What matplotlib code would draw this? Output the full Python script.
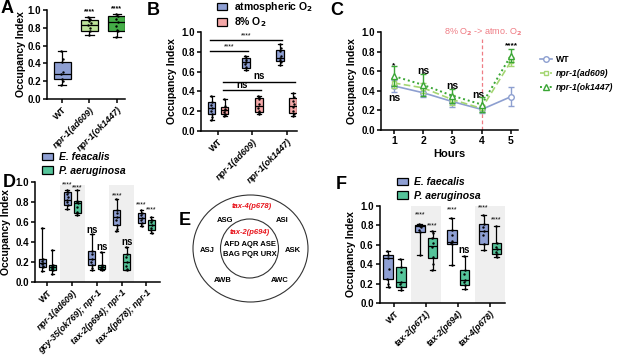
import matplotlib
matplotlib.use('Agg')
import matplotlib.pyplot as plt
from matplotlib.patches import Ellipse, Patch
from matplotlib.lines import Line2D

plt.rcParams['font.family'] = ['Liberation Sans', 'DejaVu Sans']
plt.rcParams['font.weight'] = 'bold'
plt.rcParams['axes.labelweight'] = 'bold'
plt.rcParams['mathtext.default'] = 'bf'

# ---------------- DATA ----------------
# Panel A  (stats: whislo, q1, med, q3, whishi)
a_labels = ['WT', 'npr-1(ad609)', 'npr-1(ok1447)']
a_stats = [(0.16, 0.22, 0.28, 0.42, 0.54),
           (0.72, 0.76, 0.83, 0.89, 0.92),
           (0.70, 0.76, 0.86, 0.93, 0.96)]
a_points = [[0.54, 0.45, 0.42, 0.30, 0.28, 0.22, 0.20, 0.16],
            [0.92, 0.90, 0.88, 0.85, 0.83, 0.80, 0.76, 0.72],
            [0.96, 0.93, 0.90, 0.86, 0.82, 0.78, 0.76, 0.70]]
a_sig = ['', '****', '****']

# Panel B
b_labels = ['WT', 'npr-1(ad609)', 'npr-1(ok1447)']
b_series = ['atmospheric O$_2$', '8% O$_2$']
b_atm_stats = [(0.11, 0.17, 0.23, 0.29, 0.35),
               (0.62, 0.64, 0.70, 0.74, 0.76),
               (0.67, 0.71, 0.74, 0.82, 0.88)]
b_low_stats = [(0.15, 0.17, 0.21, 0.24, 0.32),
               (0.17, 0.19, 0.25, 0.33, 0.35),
               (0.15, 0.18, 0.25, 0.33, 0.38)]
b_atm_points = [[0.35, 0.29, 0.26, 0.23, 0.20, 0.17, 0.14, 0.11],
                [0.76, 0.74, 0.72, 0.70, 0.68, 0.65, 0.62],
                [0.88, 0.84, 0.81, 0.76, 0.74, 0.72, 0.70, 0.67]]
b_low_points = [[0.32, 0.25, 0.22, 0.21, 0.19, 0.17, 0.16, 0.15],
                [0.35, 0.34, 0.32, 0.27, 0.23, 0.20, 0.18, 0.17],
                [0.38, 0.34, 0.30, 0.27, 0.24, 0.20, 0.17, 0.15]]
# comparisons: (series_from, group_from, series_to, group_to, y, text)
b_comparisons = [(0, 0, 0, 1, 0.81, '****'),
                 (0, 0, 0, 2, 0.92, '****'),
                 (1, 0, 1, 1, 0.41, 'ns'),
                 (1, 0, 1, 2, 0.50, 'ns')]

# Panel C
c_hours = [1, 2, 3, 4, 5]
c_names = ['WT', 'npr-1(ad609)', 'npr-1(ok1447)']
c_wt = [0.45, 0.38, 0.29, 0.21, 0.34]
c_wt_err = [0.06, 0.04, 0.06, 0.04, 0.10]
c_ad609 = [0.48, 0.43, 0.31, 0.22, 0.70]
c_ad609_err = [0.05, 0.05, 0.05, 0.04, 0.05]
c_ok1447 = [0.55, 0.46, 0.35, 0.26, 0.76]
c_ok1447_err = [0.10, 0.11, 0.07, 0.08, 0.07]
c_sig_text = ['*', 'ns', 'ns', 'ns', 'ns', '****']
c_sig_x = [1, 1, 2, 3, 3.88, 5]
c_sig_y = [0.66, 0.33, 0.60, 0.45, 0.36, 0.86]
c_switch_hour = 4
c_switch_label = '8% O$_2$ -> atmo. O$_2$'

# Panel D
d_labels = ['WT', 'npr-1(ad609)', 'gcy-35(ok769); npr-1',
            'tax-2(p694); npr-1', 'tax-4(p678); npr-1']
d_series = ['E. feacalis', 'P. aeruginosa']
d_ef_stats = [(0.11, 0.15, 0.19, 0.23, 0.54),
              (0.73, 0.77, 0.82, 0.90, 0.92),
              (0.12, 0.17, 0.23, 0.31, 0.48),
              (0.51, 0.57, 0.65, 0.72, 0.83),
              (0.56, 0.59, 0.64, 0.69, 0.72)]
d_pa_stats = [(0.08, 0.12, 0.15, 0.17, 0.32),
              (0.67, 0.69, 0.79, 0.81, 0.92),
              (0.12, 0.13, 0.15, 0.17, 0.30),
              (0.12, 0.12, 0.20, 0.28, 0.35),
              (0.49, 0.52, 0.57, 0.62, 0.65)]
d_ef_points = [[0.54, 0.23, 0.21, 0.19, 0.18, 0.16, 0.15, 0.11],
               [0.92, 0.90, 0.88, 0.85, 0.82, 0.80, 0.77, 0.73],
               [0.48, 0.31, 0.28, 0.23, 0.20, 0.17, 0.14, 0.12],
               [0.83, 0.72, 0.69, 0.65, 0.62, 0.57, 0.53, 0.51],
               [0.72, 0.69, 0.67, 0.64, 0.62, 0.59, 0.56]]
d_pa_points = [[0.32, 0.17, 0.16, 0.15, 0.14, 0.13, 0.12, 0.08],
               [0.92, 0.81, 0.80, 0.79, 0.75, 0.70, 0.69, 0.67],
               [0.30, 0.17, 0.16, 0.15, 0.14, 0.13, 0.12],
               [0.35, 0.28, 0.25, 0.20, 0.16, 0.13, 0.12],
               [0.65, 0.62, 0.60, 0.57, 0.54, 0.52, 0.49]]
d_ef_sig = ['', '****', 'ns', '****', '****']
d_ef_sig_y = [0, 0.97, 0.52, 0.86, 0.77]
d_pa_sig = ['', '****', 'ns', 'ns', '****']
d_pa_sig_y = [0, 0.94, 0.35, 0.40, 0.72]
d_shaded = [1, 3]

# Panel E
e_outer_label = 'tax-4(p678)'
e_inner_label = 'tax-2(p694)'
e_outer_neurons = ['ASG', 'ASI', 'ASJ', 'ASK', 'AWB', 'AWC']
e_inner_neurons = ['AFD AQR ASE', 'BAG PQR URX']

# Panel F
f_labels = ['WT', 'tax-2(p671)', 'tax-2(p694)', 'tax-4(p678)']
f_series = ['E. faecalis', 'P. aeruginosa']
f_ef_stats = [(0.16, 0.25, 0.46, 0.50, 0.54),
              (0.49, 0.73, 0.79, 0.80, 0.81),
              (0.39, 0.61, 0.63, 0.75, 0.88),
              (0.55, 0.61, 0.74, 0.81, 0.91)]
f_pa_stats = [(0.13, 0.16, 0.22, 0.37, 0.45),
              (0.34, 0.46, 0.59, 0.67, 0.74),
              (0.14, 0.19, 0.24, 0.34, 0.48),
              (0.47, 0.51, 0.56, 0.62, 0.79)]
f_ef_points = [[0.54, 0.50, 0.46, 0.35, 0.25, 0.20, 0.16],
               [0.81, 0.80, 0.79, 0.78, 0.75, 0.73, 0.49],
               [0.88, 0.75, 0.70, 0.64, 0.62, 0.61, 0.39],
               [0.91, 0.81, 0.78, 0.74, 0.70, 0.61, 0.55]]
f_pa_points = [[0.45, 0.37, 0.32, 0.22, 0.20, 0.16, 0.13],
               [0.74, 0.72, 0.67, 0.62, 0.58, 0.47, 0.40, 0.34],
               [0.48, 0.34, 0.30, 0.24, 0.22, 0.19, 0.14],
               [0.79, 0.62, 0.58, 0.56, 0.53, 0.51, 0.47]]
f_ef_sig = ['', '****', '****', '****']
f_ef_sig_y = [0, 0.91, 0.96, 0.98]
f_pa_sig = ['', '****', 'ns', '****']
f_pa_sig_y = [0, 0.80, 0.55, 0.86]
f_shaded = [1, 3]

# ---------------- STYLE ----------------
BLUE = '#8e9fd3'
LGREEN = '#bde39a'
DGREEN = '#44ad47'
PINK = '#f5a8a8'
TEAL = '#55c49a'
SHADE = '#efefef'
C_WT = '#8d9fd0'
C_AD = '#a4d672'
C_OK = '#3aa635'
RED = '#ef7c84'

W, H = 617, 360
fig = plt.figure(figsize=(6.17, 3.6), dpi=100)


def px_axes(l, t, r, b):
    return fig.add_axes([l / W, 1 - b / H, (r - l) / W, (b - t) / H])


def style(ax, ylabel=True, pad=3):
    for s in ['top', 'right']:
        ax.spines[s].set_visible(False)
    for s in ['left', 'bottom']:
        ax.spines[s].set_linewidth(1.1)
    ax.set_ylim(0, 1.0)
    ax.set_yticks([0, 0.2, 0.4, 0.6, 0.8, 1.0])
    ax.set_yticklabels(['0.0', '0.2', '0.4', '0.6', '0.8', '1.0'])
    ax.tick_params(axis='both', width=1.1, length=3, labelsize=7, pad=1.5)
    if ylabel:
        ax.set_ylabel('Occupancy Index', fontsize=7.5, labelpad=pad)


def to_stats(tup):
    lo, q1, med, q3, hi = tup
    return dict(whislo=lo, q1=q1, med=med, q3=q3, whishi=hi, fliers=[])


JIT = [-0.06, 0.05, -0.02, 0.07, -0.07, 0.02, 0.06, -0.04, 0.0]


def boxes(ax, stats, pos, width, color, points, jscale=1.0):
    bp = ax.bxp([to_stats(s) for s in stats], positions=pos, widths=width,
                patch_artist=True, showfliers=False,
                boxprops=dict(facecolor=color, edgecolor='black', linewidth=0.9),
                whiskerprops=dict(color='black', linewidth=0.9),
                capprops=dict(color='black', linewidth=0.9),
                medianprops=dict(color='black', linewidth=0.9),
                manage_ticks=False)
    for b in bp['caps']:
        x = b.get_xdata()
        c = (x[0] + x[1]) / 2
        b.set_xdata([c - width * 0.25, c + width * 0.25])
    for p, pts in zip(pos, points):
        xs = [p + JIT[i % len(JIT)] * width * jscale for i in range(len(pts))]
        ax.scatter(xs, pts, s=3, color='black', zorder=5, linewidths=0)


def xlabels(ax, labels, italics, fs=6.5):
    ax.set_xticks(range(len(labels)))
    ax.set_xticklabels(labels, rotation=45, ha='right', rotation_mode='anchor',
                       fontsize=fs)
    for t, it in zip(ax.get_xticklabels(), italics):
        if it:
            t.set_style('italic')


def letter(x, y, s):
    fig.text(x / W, 1 - y / H, s, fontsize=13, fontweight='heavy', va='top', ha='left')


# ---------------- PANEL A ----------------
axA = px_axes(47, 10, 125, 99)
style(axA, pad=1)
colsA = [BLUE, LGREEN, DGREEN]
for i in range(3):
    boxes(axA, [a_stats[i]], [i], 0.62, colsA[i], [a_points[i]])
    if a_sig[i]:
        axA.text(i, max(a_points[i]) + 0.02, a_sig[i], ha='center', va='bottom', fontsize=5)
axA.set_xlim(-0.55, 2.3)
xlabels(axA, a_labels, [False, True, True])
letter(1, 0, 'A')

# ---------------- PANEL B ----------------
axB = px_axes(201, 32, 297, 131)
style(axB)
off = 0.19
pos_atm = [g - off for g in range(3)]
pos_low = [g + off for g in range(3)]
boxes(axB, b_atm_stats, pos_atm, 0.22, BLUE, b_atm_points)
boxes(axB, b_low_stats, pos_low, 0.22, PINK, b_low_points)
posB = [pos_atm, pos_low]
for s1, g1, s2, g2, y, txt in b_comparisons:
    x1, x2 = posB[s1][g1], posB[s2][g2]
    axB.plot([x1 - 0.05, x2 + 0.05], [y, y], color='black', lw=1.0, clip_on=False)
    axB.text((x1 + x2) / 2, y + 0.005, txt, ha='center', va='bottom',
             fontsize=5 if '*' in txt else 7, fontweight='normal' if '*' in txt else 'bold')
axB.set_xlim(-0.5, 2.3)
xlabels(axB, b_labels, [False, True, True])
fig.legend([Patch(facecolor=BLUE, edgecolor='black', lw=0.9),
            Patch(facecolor=PINK, edgecolor='black', lw=0.9)], b_series,
           loc='upper left', bbox_to_anchor=(216 / W, 1 + 1 / H), frameon=False,
           fontsize=7.5, handlelength=1.0, handleheight=0.7, handletextpad=0.6,
           labelspacing=0.15, borderaxespad=0, borderpad=0.1)
letter(147, 2, 'B')

# ---------------- PANEL C ----------------
axC = px_axes(381, 32, 518, 130)
style(axC)
axC.errorbar(c_hours, c_wt, yerr=c_wt_err, color=C_WT, marker='o', mfc='white',
             ms=4, lw=1.2, ls='-', capsize=2.5, elinewidth=1.0, zorder=3)
axC.errorbar(c_hours, c_ad609, yerr=c_ad609_err, color=C_AD, marker='s', mfc='white',
             ms=3.5, lw=1.2, ls=(0, (4, 2)), capsize=2.5, elinewidth=1.0, zorder=4)
axC.errorbar(c_hours, c_ok1447, yerr=c_ok1447_err, color=C_OK, marker='^', mfc='white',
             ms=4, lw=1.4, ls=(0, (1, 1.5)), capsize=2.5, elinewidth=1.0, zorder=5)
axC.axvline(c_switch_hour, ymin=0, ymax=0.93, color=RED, lw=0.9, ls=(0, (3, 2)))
axC.text(c_switch_hour + 0.05, 1.0, c_switch_label, color=RED, fontsize=6.5,
         ha='center', va='center', fontweight='normal')
for t, x, y in zip(c_sig_text, c_sig_x, c_sig_y):
    axC.text(x, y, t, ha='center', va='center',
             fontsize=6 if '*' in t else 7.5)
axC.set_xlim(0.56, 5.24)
axC.set_xticks(c_hours)
axC.tick_params(axis='x', labelsize=7.5)
axC.set_xlabel('Hours', fontsize=8, labelpad=2)
hC = [Line2D([], [], color=C_WT, marker='o', mfc='white', ms=4, lw=1.2, ls='-'),
      Line2D([], [], color=C_AD, marker='s', mfc='white', ms=3.5, lw=1.2, ls=(0, (4, 2))),
      Line2D([], [], color=C_OK, marker='^', mfc='white', ms=4, lw=1.4, ls=(0, (1, 1.5)))]
legC = fig.legend(hC, c_names, loc='upper left', bbox_to_anchor=(540 / W, 1 - 55 / H),
                  frameon=False, fontsize=6.3, handlelength=1.4, handletextpad=0.4,
                  labelspacing=0.6, borderaxespad=0, borderpad=0)
for t in legC.get_texts()[1:]:
    t.set_style('italic')
letter(330, 2, 'C')

# ---------------- PANEL D ----------------
axD = px_axes(35, 182, 160, 282)
style(axD)
for g in d_shaded:
    axD.axvspan(g - 0.5, g + 0.5, ymin=0, ymax=0.97, color=SHADE, zorder=0, lw=0)
offD = 0.2
pos_ef = [g - offD for g in range(5)]
pos_pa = [g + offD for g in range(5)]
boxes(axD, d_ef_stats, pos_ef, 0.28, BLUE, d_ef_points)
boxes(axD, d_pa_stats, pos_pa, 0.28, TEAL, d_pa_points)
for i in range(5):
    for p, txt, y in [(pos_ef[i], d_ef_sig[i], d_ef_sig_y[i]), (pos_pa[i], d_pa_sig[i], d_pa_sig_y[i])]:
        if txt:
            axD.text(p, y, txt, ha='center', va='center', clip_on=False,
                     fontsize=5 if '*' in txt else 7,
                     fontweight='normal' if '*' in txt else 'bold')
axD.set_xlim(-0.5, 4.55)
xlabels(axD, d_labels, [False, True, True, True, True], fs=6.3)
legD = fig.legend([Patch(facecolor=BLUE, edgecolor='black', lw=0.9),
                   Patch(facecolor=TEAL, edgecolor='black', lw=0.9)], d_series,
                  loc='upper left', bbox_to_anchor=(40 / W, 1 - 150 / H), frameon=False,
                  fontsize=7.5, handlelength=1.0, handleheight=0.7, handletextpad=0.6,
                  labelspacing=0.35, borderaxespad=0, borderpad=0.2)
for t in legD.get_texts():
    t.set_style('italic')
letter(3, 174, 'D')

# ---------------- PANEL E ----------------
axE = px_axes(180, 190, 340, 320)
axE.set_xlim(180, 340)
axE.set_ylim(320, 190)
axE.axis('off')
axE.add_patch(Ellipse((250.5, 248.5), 115, 107, fill=False, lw=0.8, ec='#333333'))
axE.add_patch(Ellipse((249.5, 248.5), 58, 59, fill=False, lw=0.8, ec='#333333'))
axE.text(252, 206, e_outer_label, color='#e8141c', fontsize=5.5, style='italic',
         ha='center', va='center')
axE.text(250, 233, e_inner_label, color='#e8141c', fontsize=5.5, style='italic',
         ha='center', va='center')
outer_xy = [(225, 221), (282, 221), (207, 250), (293, 250), (223, 281), (280, 281)]
for name, (x, y) in zip(e_outer_neurons, outer_xy):
    axE.text(x, y, name, fontsize=5.5, ha='center', va='center')
axE.text(250, 245, e_inner_neurons[0], fontsize=5.5, ha='center', va='center')
axE.text(250, 255, e_inner_neurons[1], fontsize=5.5, ha='center', va='center')
letter(179, 212, 'E')

# ---------------- PANEL F ----------------
axF = px_axes(380, 206, 505, 303)
style(axF)
for g in f_shaded:
    axF.axvspan(g - 0.47, g + 0.47, ymin=0, ymax=1.0, color=SHADE, zorder=0, lw=0)
offF = 0.2
pos_fe = [g - offF for g in range(4)]
pos_fp = [g + offF for g in range(4)]
boxes(axF, f_ef_stats, pos_fe, 0.3, BLUE, f_ef_points)
boxes(axF, f_pa_stats, pos_fp, 0.3, TEAL, f_pa_points)
for i in range(4):
    for p, txt, y in [(pos_fe[i], f_ef_sig[i], f_ef_sig_y[i]), (pos_fp[i], f_pa_sig[i], f_pa_sig_y[i])]:
        if txt:
            axF.text(p, y, txt, ha='center', va='center', clip_on=False,
                     fontsize=5 if '*' in txt else 7,
                     fontweight='normal' if '*' in txt else 'bold')
axF.set_xlim(-0.45, 3.47)
xlabels(axF, f_labels, [False, True, True, True], fs=6.3)
legF = fig.legend([Patch(facecolor=BLUE, edgecolor='black', lw=0.9),
                   Patch(facecolor=TEAL, edgecolor='black', lw=0.9)], f_series,
                  loc='upper left', bbox_to_anchor=(395 / W, 1 - 175 / H), frameon=False,
                  fontsize=7.5, handlelength=1.0, handleheight=0.7, handletextpad=0.6,
                  labelspacing=0.35, borderaxespad=0, borderpad=0.2)
for t in legF.get_texts():
    t.set_style('italic')
letter(336, 176, 'F')

fig.savefig('out.png', dpi=100)
